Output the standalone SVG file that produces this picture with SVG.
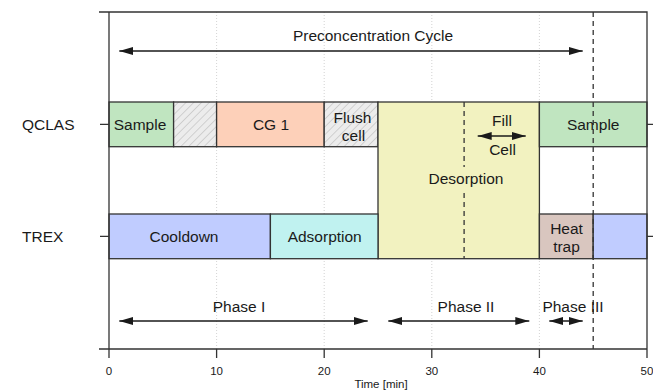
<svg xmlns="http://www.w3.org/2000/svg" width="653" height="392" viewBox="0 0 653 392">
<style>
  text { font-family: "Liberation Sans", Arial, sans-serif; fill: #1a1a1a; }
  .lbl { font-size: 15.5px; text-anchor: middle; }
  .row { font-size: 15.5px; }
  .tick { font-size: 11.5px; text-anchor: middle; }
  .box { stroke: #333; stroke-width: 1.3; }
  .grid { stroke: #c8c8c8; stroke-width: 0.8; stroke-dasharray: 1 2; }
  .axis { stroke: #333; stroke-width: 1.3; fill: none; }
  .dash { stroke: #333; stroke-width: 1.3; stroke-dasharray: 5 4; }
  .arr { stroke: #1a1a1a; stroke-width: 1.3; marker-start: url(#ah); marker-end: url(#ah); }
</style>
<defs>
  <pattern id="hatch" patternUnits="userSpaceOnUse" width="5.5" height="5.5" patternTransform="rotate(45)">
    <rect width="5.5" height="5.5" fill="#ececec"/>
    <line x1="0" y1="0" x2="0" y2="5.5" stroke="#b4b4b4" stroke-width="1"/>
  </pattern>
  <marker id="ah" markerUnits="userSpaceOnUse" markerWidth="14" markerHeight="8" refX="14" refY="4" orient="auto-start-reverse" viewBox="0 0 14 8">
    <path d="M0,0 L14,4 L0,8 z" fill="#1a1a1a"/>
  </marker>
</defs>

<g id="grid">
  <line class="grid" x1="216.6" y1="12" x2="216.6" y2="349"/>
  <line class="grid" x1="324.2" y1="12" x2="324.2" y2="349"/>
  <line class="grid" x1="431.8" y1="12" x2="431.8" y2="349"/>
  <line class="grid" x1="539.4" y1="12" x2="539.4" y2="349"/>
</g>

<g id="qclas-sample1">
  <rect class="box" x="109" y="102" width="64.6" height="44.7" fill="#c0e5c0"/>
  <text class="lbl" x="140" y="130">Sample</text>
</g>
<g id="qclas-idle">
  <rect class="box" x="173.6" y="102" width="43" height="44.7" fill="url(#hatch)"/>
</g>
<g id="qclas-cg1">
  <rect class="box" x="216.6" y="102" width="107.6" height="44.7" fill="#fdd0b9"/>
  <text class="lbl" x="271" y="130">CG 1</text>
</g>
<g id="qclas-flush">
  <rect class="box" x="324.2" y="102" width="53.8" height="44.7" fill="url(#hatch)"/>
  <text class="lbl" x="352.5" y="122.5">Flush</text>
  <text class="lbl" x="353.5" y="141">cell</text>
</g>
<g id="desorption">
  <rect class="box" x="378" y="102" width="161.4" height="156.7" fill="#f2f2c0"/>
  <text class="lbl" x="466" y="183.5">Desorption</text>
  <text class="lbl" x="502" y="126">Fill</text>
  <text class="lbl" x="502.5" y="155">Cell</text>
</g>
<g id="qclas-sample2">
  <rect class="box" x="539.4" y="102" width="107.6" height="44.7" fill="#c0e5c0"/>
  <text class="lbl" x="593.2" y="130">Sample</text>
</g>

<g id="trex-cooldown">
  <rect class="box" x="109" y="214" width="161.4" height="44.7" fill="#c0ccff"/>
  <text class="lbl" x="184" y="242">Cooldown</text>
</g>
<g id="trex-adsorption">
  <rect class="box" x="270.4" y="214" width="107.6" height="44.7" fill="#c0f2f0"/>
  <text class="lbl" x="324.7" y="242">Adsorption</text>
</g>
<g id="trex-heat">
  <rect class="box" x="539.4" y="214" width="53.8" height="44.7" fill="#d9c6bf"/>
  <text class="lbl" x="566.5" y="234">Heat</text>
  <text class="lbl" x="566.5" y="251.5">trap</text>
</g>
<g id="trex-cooldown2">
  <rect class="box" x="593.2" y="214" width="53.8" height="44.7" fill="#c0ccff"/>
</g>

<g id="connectors">
  <line class="dash" x1="464.1" y1="102" x2="464.1" y2="167"/>
  <line class="dash" x1="464.1" y1="193" x2="464.1" y2="258.7"/>
  <line class="dash" x1="593.2" y1="12" x2="593.2" y2="349"/>
  <line class="arr" x1="119.3" y1="51" x2="582.7" y2="51"/>
  <line class="arr" x1="477.7" y1="136" x2="525.7" y2="136"/>
  <line class="arr" x1="119.3" y1="321" x2="367.7" y2="321"/>
  <line class="arr" x1="388.3" y1="321" x2="529.3" y2="321"/>
  <line class="arr" x1="549.3" y1="321" x2="582.7" y2="321"/>
</g>

<g id="labels">
  <text class="lbl" x="373" y="41">Preconcentration Cycle</text>
  <text class="lbl" x="239" y="312.3">Phase I</text>
  <text class="lbl" x="466" y="312.3">Phase II</text>
  <text class="lbl" x="573" y="312.3">Phase III</text>
  <text class="row" x="22" y="130">QCLAS</text>
  <text class="row" x="22" y="242">TREX</text>
</g>

<g id="axes">
  <path class="axis" d="M99,12 H647 V358 M99,349 H647 M109,12 V358"/>
  <path class="axis" d="M100,124.3 H109 M100,236.3 H109 M647,124.3 H656 M647,236.3 H656"/>
  <path class="axis" d="M216.6,349 V358 M324.2,349 V358 M431.8,349 V358 M539.4,349 V358"/>
  <text class="tick" x="109" y="375">0</text>
  <text class="tick" x="216.6" y="375">10</text>
  <text class="tick" x="324.2" y="375">20</text>
  <text class="tick" x="431.8" y="375">30</text>
  <text class="tick" x="539.4" y="375">40</text>
  <text class="tick" x="647" y="375">50</text>
  <text class="tick" x="381" y="387.5">Time [min]</text>
</g>
</svg>
